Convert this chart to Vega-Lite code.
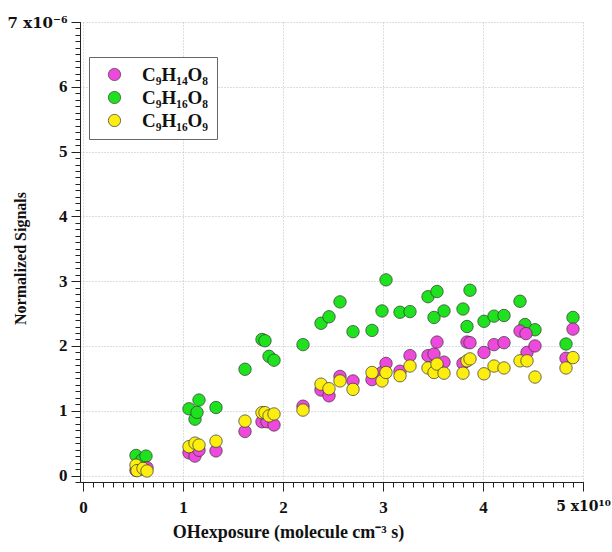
{
  "$schema": "https://vega.github.io/schema/vega-lite/v6.json",
  "autosize": {"type": "none"},
  "width": 503,
  "height": 460,
  "padding": {"left": 80, "top": 22, "right": 29, "bottom": 70},
  "background": "white",
  "config": {
    "view": {"stroke": null},
    "font": "Liberation Serif",
    "axis": {
      "labelFont": "Liberation Serif",
      "labelFontWeight": "bold",
      "labelFontSize": 17,
      "labelColor": "#111",
      "labelFlush": false,
      "titleFont": "Liberation Serif",
      "titleFontWeight": "bold",
      "titleColor": "#111",
      "domainColor": "#222",
      "tickColor": "#222",
      "gridColor": "#b9bdcb",
      "gridDash": [1, 2],
      "gridWidth": 1
    }
  },
  "data": {
    "values": [
      {"series": "C₉H₁₆O₈", "exposure": 0.53e10, "signal": 0.31e-6},
      {"series": "C₉H₁₆O₈", "exposure": 0.59e10, "signal": 0.24e-6},
      {"series": "C₉H₁₆O₈", "exposure": 0.63e10, "signal": 0.30e-6},
      {"series": "C₉H₁₆O₈", "exposure": 1.06e10, "signal": 1.03e-6},
      {"series": "C₉H₁₆O₈", "exposure": 1.12e10, "signal": 0.87e-6},
      {"series": "C₉H₁₆O₈", "exposure": 1.14e10, "signal": 0.975e-6},
      {"series": "C₉H₁₆O₈", "exposure": 1.16e10, "signal": 1.165e-6},
      {"series": "C₉H₁₆O₈", "exposure": 1.33e10, "signal": 1.05e-6},
      {"series": "C₉H₁₆O₈", "exposure": 1.62e10, "signal": 1.64e-6},
      {"series": "C₉H₁₆O₈", "exposure": 1.79e10, "signal": 2.10e-6},
      {"series": "C₉H₁₆O₈", "exposure": 1.82e10, "signal": 2.08e-6},
      {"series": "C₉H₁₆O₈", "exposure": 1.86e10, "signal": 1.84e-6},
      {"series": "C₉H₁₆O₈", "exposure": 1.91e10, "signal": 1.78e-6},
      {"series": "C₉H₁₆O₈", "exposure": 2.20e10, "signal": 2.02e-6},
      {"series": "C₉H₁₆O₈", "exposure": 2.38e10, "signal": 2.35e-6},
      {"series": "C₉H₁₆O₈", "exposure": 2.46e10, "signal": 2.45e-6},
      {"series": "C₉H₁₆O₈", "exposure": 2.57e10, "signal": 2.68e-6},
      {"series": "C₉H₁₆O₈", "exposure": 2.70e10, "signal": 2.22e-6},
      {"series": "C₉H₁₆O₈", "exposure": 2.89e10, "signal": 2.24e-6},
      {"series": "C₉H₁₆O₈", "exposure": 2.99e10, "signal": 2.54e-6},
      {"series": "C₉H₁₆O₈", "exposure": 3.03e10, "signal": 3.02e-6},
      {"series": "C₉H₁₆O₈", "exposure": 3.17e10, "signal": 2.52e-6},
      {"series": "C₉H₁₆O₈", "exposure": 3.27e10, "signal": 2.53e-6},
      {"series": "C₉H₁₆O₈", "exposure": 3.45e10, "signal": 2.76e-6},
      {"series": "C₉H₁₆O₈", "exposure": 3.51e10, "signal": 2.44e-6},
      {"series": "C₉H₁₆O₈", "exposure": 3.54e10, "signal": 2.84e-6},
      {"series": "C₉H₁₆O₈", "exposure": 3.61e10, "signal": 2.54e-6},
      {"series": "C₉H₁₆O₈", "exposure": 3.80e10, "signal": 2.57e-6},
      {"series": "C₉H₁₆O₈", "exposure": 3.84e10, "signal": 2.30e-6},
      {"series": "C₉H₁₆O₈", "exposure": 3.87e10, "signal": 2.86e-6},
      {"series": "C₉H₁₆O₈", "exposure": 4.01e10, "signal": 2.38e-6},
      {"series": "C₉H₁₆O₈", "exposure": 4.11e10, "signal": 2.46e-6},
      {"series": "C₉H₁₆O₈", "exposure": 4.21e10, "signal": 2.47e-6},
      {"series": "C₉H₁₆O₈", "exposure": 4.37e10, "signal": 2.69e-6},
      {"series": "C₉H₁₆O₈", "exposure": 4.42e10, "signal": 2.33e-6},
      {"series": "C₉H₁₆O₈", "exposure": 4.52e10, "signal": 2.25e-6},
      {"series": "C₉H₁₆O₈", "exposure": 4.83e10, "signal": 2.03e-6},
      {"series": "C₉H₁₆O₈", "exposure": 4.90e10, "signal": 2.44e-6},

      {"series": "C₉H₁₄O₈", "exposure": 0.53e10, "signal": 0.08e-6},
      {"series": "C₉H₁₄O₈", "exposure": 0.59e10, "signal": 0.10e-6},
      {"series": "C₉H₁₄O₈", "exposure": 0.64e10, "signal": 0.12e-6},
      {"series": "C₉H₁₄O₈", "exposure": 1.06e10, "signal": 0.35e-6},
      {"series": "C₉H₁₄O₈", "exposure": 1.12e10, "signal": 0.30e-6},
      {"series": "C₉H₁₄O₈", "exposure": 1.16e10, "signal": 0.39e-6},
      {"series": "C₉H₁₄O₈", "exposure": 1.33e10, "signal": 0.38e-6},
      {"series": "C₉H₁₄O₈", "exposure": 1.62e10, "signal": 0.68e-6},
      {"series": "C₉H₁₄O₈", "exposure": 1.79e10, "signal": 0.83e-6},
      {"series": "C₉H₁₄O₈", "exposure": 1.84e10, "signal": 0.83e-6},
      {"series": "C₉H₁₄O₈", "exposure": 1.91e10, "signal": 0.78e-6},
      {"series": "C₉H₁₄O₈", "exposure": 2.20e10, "signal": 1.07e-6},
      {"series": "C₉H₁₄O₈", "exposure": 2.38e10, "signal": 1.32e-6},
      {"series": "C₉H₁₄O₈", "exposure": 2.46e10, "signal": 1.23e-6},
      {"series": "C₉H₁₄O₈", "exposure": 2.57e10, "signal": 1.53e-6},
      {"series": "C₉H₁₄O₈", "exposure": 2.70e10, "signal": 1.46e-6},
      {"series": "C₉H₁₄O₈", "exposure": 2.89e10, "signal": 1.48e-6},
      {"series": "C₉H₁₄O₈", "exposure": 2.99e10, "signal": 1.59e-6},
      {"series": "C₉H₁₄O₈", "exposure": 3.03e10, "signal": 1.73e-6},
      {"series": "C₉H₁₄O₈", "exposure": 3.17e10, "signal": 1.61e-6},
      {"series": "C₉H₁₄O₈", "exposure": 3.27e10, "signal": 1.85e-6},
      {"series": "C₉H₁₄O₈", "exposure": 3.45e10, "signal": 1.85e-6},
      {"series": "C₉H₁₄O₈", "exposure": 3.51e10, "signal": 1.875e-6},
      {"series": "C₉H₁₄O₈", "exposure": 3.54e10, "signal": 2.06e-6},
      {"series": "C₉H₁₄O₈", "exposure": 3.61e10, "signal": 1.75e-6},
      {"series": "C₉H₁₄O₈", "exposure": 3.80e10, "signal": 1.73e-6},
      {"series": "C₉H₁₄O₈", "exposure": 3.84e10, "signal": 2.06e-6},
      {"series": "C₉H₁₄O₈", "exposure": 3.87e10, "signal": 2.05e-6},
      {"series": "C₉H₁₄O₈", "exposure": 4.01e10, "signal": 1.90e-6},
      {"series": "C₉H₁₄O₈", "exposure": 4.11e10, "signal": 2.02e-6},
      {"series": "C₉H₁₄O₈", "exposure": 4.21e10, "signal": 2.05e-6},
      {"series": "C₉H₁₄O₈", "exposure": 4.37e10, "signal": 2.23e-6},
      {"series": "C₉H₁₄O₈", "exposure": 4.43e10, "signal": 2.19e-6},
      {"series": "C₉H₁₄O₈", "exposure": 4.44e10, "signal": 1.90e-6},
      {"series": "C₉H₁₄O₈", "exposure": 4.52e10, "signal": 2.00e-6},
      {"series": "C₉H₁₄O₈", "exposure": 4.83e10, "signal": 1.81e-6},
      {"series": "C₉H₁₄O₈", "exposure": 4.90e10, "signal": 2.26e-6},

      {"series": "C₉H₁₆O₉", "exposure": 0.53e10, "signal": 0.16e-6},
      {"series": "C₉H₁₆O₉", "exposure": 0.54e10, "signal": 0.075e-6},
      {"series": "C₉H₁₆O₉", "exposure": 0.60e10, "signal": 0.11e-6},
      {"series": "C₉H₁₆O₉", "exposure": 0.64e10, "signal": 0.07e-6},
      {"series": "C₉H₁₆O₉", "exposure": 1.06e10, "signal": 0.445e-6},
      {"series": "C₉H₁₆O₉", "exposure": 1.12e10, "signal": 0.50e-6},
      {"series": "C₉H₁₆O₉", "exposure": 1.16e10, "signal": 0.47e-6},
      {"series": "C₉H₁₆O₉", "exposure": 1.33e10, "signal": 0.53e-6},
      {"series": "C₉H₁₆O₉", "exposure": 1.62e10, "signal": 0.84e-6},
      {"series": "C₉H₁₆O₉", "exposure": 1.79e10, "signal": 0.97e-6},
      {"series": "C₉H₁₆O₉", "exposure": 1.82e10, "signal": 0.97e-6},
      {"series": "C₉H₁₆O₉", "exposure": 1.86e10, "signal": 0.92e-6},
      {"series": "C₉H₁₆O₉", "exposure": 1.91e10, "signal": 0.95e-6},
      {"series": "C₉H₁₆O₉", "exposure": 2.20e10, "signal": 1.01e-6},
      {"series": "C₉H₁₆O₉", "exposure": 2.38e10, "signal": 1.41e-6},
      {"series": "C₉H₁₆O₉", "exposure": 2.46e10, "signal": 1.34e-6},
      {"series": "C₉H₁₆O₉", "exposure": 2.57e10, "signal": 1.46e-6},
      {"series": "C₉H₁₆O₉", "exposure": 2.70e10, "signal": 1.33e-6},
      {"series": "C₉H₁₆O₉", "exposure": 2.89e10, "signal": 1.59e-6},
      {"series": "C₉H₁₆O₉", "exposure": 2.99e10, "signal": 1.46e-6},
      {"series": "C₉H₁₆O₉", "exposure": 3.03e10, "signal": 1.59e-6},
      {"series": "C₉H₁₆O₉", "exposure": 3.17e10, "signal": 1.54e-6},
      {"series": "C₉H₁₆O₉", "exposure": 3.27e10, "signal": 1.69e-6},
      {"series": "C₉H₁₆O₉", "exposure": 3.45e10, "signal": 1.66e-6},
      {"series": "C₉H₁₆O₉", "exposure": 3.51e10, "signal": 1.59e-6},
      {"series": "C₉H₁₆O₉", "exposure": 3.54e10, "signal": 1.72e-6},
      {"series": "C₉H₁₆O₉", "exposure": 3.61e10, "signal": 1.58e-6},
      {"series": "C₉H₁₆O₉", "exposure": 3.80e10, "signal": 1.58e-6},
      {"series": "C₉H₁₆O₉", "exposure": 3.84e10, "signal": 1.77e-6},
      {"series": "C₉H₁₆O₉", "exposure": 3.87e10, "signal": 1.80e-6},
      {"series": "C₉H₁₆O₉", "exposure": 4.01e10, "signal": 1.57e-6},
      {"series": "C₉H₁₆O₉", "exposure": 4.11e10, "signal": 1.69e-6},
      {"series": "C₉H₁₆O₉", "exposure": 4.21e10, "signal": 1.66e-6},
      {"series": "C₉H₁₆O₉", "exposure": 4.37e10, "signal": 1.77e-6},
      {"series": "C₉H₁₆O₉", "exposure": 4.44e10, "signal": 1.77e-6},
      {"series": "C₉H₁₆O₉", "exposure": 4.52e10, "signal": 1.52e-6},
      {"series": "C₉H₁₆O₉", "exposure": 4.83e10, "signal": 1.66e-6},
      {"series": "C₉H₁₆O₉", "exposure": 4.90e10, "signal": 1.82e-6}
    ]
  },
  "resolve": {"axis": {"x": "independent", "y": "independent"}},
  "layer": [
    {
      "mark": {"type": "point", "opacity": 0},
      "encoding": {
        "x": {
          "field": "exposure", "type": "quantitative",
          "scale": {"domain": [-0.3e9, 5e10], "nice": false, "zero": false},
          "axis": {"orient": "bottom", "tickCount": 50, "labels": false, "grid": false, "domain": false, "ticks": true, "tickSize": 5, "title": null}
        },
        "y": {
          "field": "signal", "type": "quantitative",
          "scale": {"domain": [-0.1e-6, 7e-6], "nice": false, "zero": false},
          "axis": {"orient": "left", "tickCount": 70, "labels": false, "grid": false, "domain": false, "ticks": true, "tickSize": 5, "title": null}
        }
      }
    },
    {
      "mark": {"type": "point", "filled": true, "size": 155, "opacity": 1, "stroke": "#333", "strokeWidth": 0.7},
      "encoding": {
        "x": {
          "field": "exposure", "type": "quantitative",
          "scale": {"domain": [-0.3e9, 5e10], "nice": false, "zero": false},
          "axis": {
            "orient": "bottom",
            "values": [0, 1e10, 2e10, 3e10, 4e10, 5e10],
            "labelExpr": "datum.value == 5e10 ? '5 x10¹⁰' : format(datum.value / 1e10, 'd')",
            "labelFont": {"condition": {"test": "datum.value == 5e10", "value": "DejaVu Serif"}, "value": "Liberation Serif"},
            "labelFontSize": {"condition": {"test": "datum.value == 5e10", "value": 14}, "value": 17},
            "tickSize": 9,
            "labelPadding": 8,
            "grid": true,
            "title": "OHexposure (molecule cm⁻³ s)",
            "titleFontSize": 18,
            "titlePadding": 8,
            "titleX": 208
          }
        },
        "y": {
          "field": "signal", "type": "quantitative",
          "scale": {"domain": [-0.1e-6, 7e-6], "nice": false, "zero": false},
          "axis": {
            "orient": "left",
            "values": [0, 1e-6, 2e-6, 3e-6, 4e-6, 5e-6, 6e-6, 7e-6],
            "labelExpr": "datum.value == 7e-6 ? '7 x10⁻⁶' : format(datum.value * 1e6, 'd')",
            "labelFont": {"condition": {"test": "datum.value == 7e-6", "value": "DejaVu Serif"}, "value": "Liberation Serif"},
            "labelFontSize": {"condition": {"test": "datum.value == 7e-6", "value": 15}, "value": 17},
            "tickSize": 9,
            "labelPadding": 4,
            "grid": true,
            "title": "Normalized Signals",
            "titleFontSize": 16,
            "titleX": -52,
            "titleY": 236
          }
        },
        "color": {
          "field": "series", "type": "nominal",
          "scale": {"domain": ["C₉H₁₄O₈", "C₉H₁₆O₈", "C₉H₁₆O₉"], "range": ["#ee48dc", "#1fe21f", "#fdee0f"]},
          "legend": {
            "title": null,
            "orient": "none",
            "legendX": 9,
            "legendY": 35,
            "fillColor": "white",
            "strokeColor": "#666",
            "padding": 8,
            "rowPadding": 3,
            "labelFont": "Liberation Serif",
            "labelFontSize": 19,
            "labelFontWeight": "bold",
            "labelColor": "#111",
            "labelOffset": 18,
            "symbolType": "circle",
            "symbolSize": 150,
            "symbolStrokeColor": "#333",
            "symbolStrokeWidth": 0.7,
            "symbolOffset": 8
          }
        }
      }
    }
  ]
}
